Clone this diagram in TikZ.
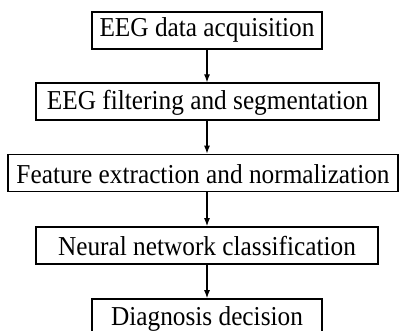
\documentclass[tikz,border=0pt]{standalone}
\usepackage{fontspec}
\setmainfont{Liberation Serif}
\usetikzlibrary{arrows.meta}
\begin{document}
\begin{tikzpicture}[x=1pt,y=1pt,
  stage/.style={draw=black, line width=1.6pt, fill=white, inner sep=0pt,
    minimum height=37pt, text height=21pt,
    font=\fontsize{25.3}{28}\selectfont},
  flow/.style={line width=1.2pt, -{Latex[length=8pt,width=6pt]}}]
  \useasboundingbox (0,-331) rectangle (401,0);
  \clip (0,-331) rectangle (401,0);
  \fill[white] (0,-331) rectangle (401,0);
  \node[stage, minimum width=230pt, text depth=9.2pt] (acq) at (207,-30.8)
    {\scalebox{1}[1.08]{EEG data acquisition}};
  \node[stage, minimum width=343pt, text depth=4.4pt] (filt) at (207.5,-101.7)
    {\scalebox{1}[1.08]{EEG filtering and segmentation}};
  \node[stage, minimum width=390pt, text depth=0.4pt] (feat) at (203,-173)
    {\scalebox{1}[1.08]{Feature extraction and normalization}};
  \node[stage, minimum width=342pt, text depth=2pt] (nn) at (207,-245.5)
    {\scalebox{1}[1.08]{Neural network classification}};
  \node[stage, minimum width=230pt, text depth=6pt] (diag) at (207,-317.5)
    {\scalebox{1}[1.08]{Diagnosis decision}};
  \draw[flow] (acq.south) -- (acq.south |- filt.north);
  \draw[flow] (acq.south |- filt.south) -- (acq.south |- feat.north);
  \draw[flow] (acq.south |- feat.south) -- (nn.north);
  \draw[flow] (nn.south) -- (diag.north);
\end{tikzpicture}
\end{document}
